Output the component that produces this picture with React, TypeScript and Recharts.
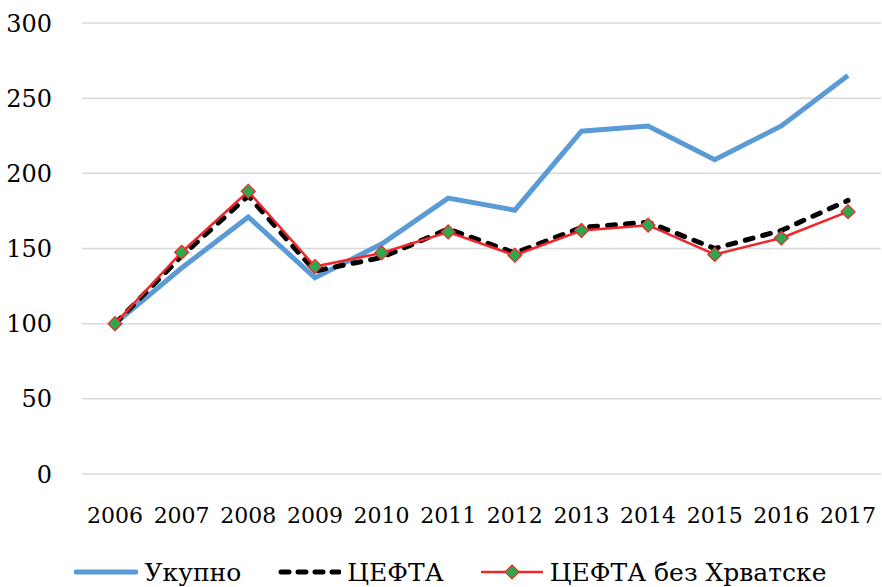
import { LineChart, Line, XAxis, YAxis, CartesianGrid, Legend } from 'recharts';

// Индекси по годинама (2006 = 100)
const years = ['2006', '2007', '2008', '2009', '2010', '2011', '2012', '2013', '2014', '2015', '2016', '2017'];
const ukupno = [100, 137, 171, 130.5, 153, 183.5, 175.5, 228, 231.5, 209, 231.5, 265];
const cefta = [100, 145, 185, 135, 144, 163, 147, 164, 167.5, 150, 162, 182];
const ceftaBezHrvatske = [100, 147.5, 188, 138, 147, 161, 145.5, 162, 165.5, 146, 157, 174.5];
const yTicks = [0, 50, 100, 150, 200, 250, 300];

const data = years.map((year, i) => ({
  year,
  ukupno: ukupno[i],
  cefta: cefta[i],
  ceftaBez: ceftaBezHrvatske[i],
}));

const FONT = "'DejaVu Serif', serif";
const BLUE = '#5B9BD5';
const RED = '#F0262B';
const GREEN = '#2EA84E';

const Diamond = (props: any) => {
  const { cx, cy } = props;
  if (cx == null || cy == null) return null;
  const r = 7;
  return (
    <polygon
      points={`${cx},${cy - r} ${cx + r},${cy} ${cx},${cy + r} ${cx - r},${cy}`}
      fill={GREEN}
      stroke={RED}
      strokeWidth={1.2}
    />
  );
};

const LegendContent = () => (
  <div
    style={{
      display: 'flex',
      justifyContent: 'center',
      alignItems: 'center',
      gap: 36,
      height: 40,
      position: 'relative',
      top: 5,
      left: 10,
      fontFamily: FONT,
      fontSize: 25,
      color: '#000',
    }}
  >
    <div style={{ display: 'flex', alignItems: 'center', gap: 6 }}>
      <svg width={64} height={14}>
        <line x1={2} y1={7} x2={62} y2={7} stroke={BLUE} strokeWidth={5} strokeLinecap="round" />
      </svg>
      <span>Укупно</span>
    </div>
    <div style={{ display: 'flex', alignItems: 'center', gap: 6 }}>
      <svg width={64} height={14}>
        <line x1={4} y1={7} x2={62} y2={7} stroke="#000" strokeWidth={5} strokeDasharray="8 9" strokeLinecap="round" />
      </svg>
      <span>ЦЕФТА</span>
    </div>
    <div style={{ display: 'flex', alignItems: 'center', gap: 6 }}>
      <svg width={64} height={16}>
        <line x1={1} y1={8} x2={63} y2={8} stroke={RED} strokeWidth={2.5} />
        <Diamond cx={32} cy={8} />
      </svg>
      <span>ЦЕФТА без Хрватске</span>
    </div>
  </div>
);

export default function App() {
  return (
    <div style={{ position: 'absolute', left: 0, top: 0, background: '#fff' }}>
      <LineChart width={882} height={587} data={data} margin={{ top: 23, right: 1, left: 0, bottom: 0 }}>
        <CartesianGrid vertical={false} stroke="#D9D9D9" strokeWidth={1.5} />
        <XAxis
          dataKey="year"
          axisLine={false}
          tickLine={false}
          tickSize={0}
          tickMargin={33}
          height={73}
          padding={{ left: 33, right: 33 }}
          interval={0}
          tick={{ fill: '#000', fontSize: 22, fontFamily: FONT }}
        />
        <YAxis
          domain={[0, 300]}
          ticks={yTicks}
          axisLine={false}
          tickLine={false}
          tickSize={0}
          tickMargin={30}
          width={82}
          tick={{ fill: '#000', fontSize: 24, fontFamily: FONT }}
        />
        <Legend verticalAlign="bottom" content={LegendContent} />
        <Line
          dataKey="ukupno"
          name="Укупно"
          stroke={BLUE}
          strokeWidth={5}
          dot={false}
          isAnimationActive={false}
        />
        <Line
          dataKey="cefta"
          name="ЦЕФТА"
          stroke="#000"
          strokeWidth={5}
          strokeDasharray="8 10"
          strokeLinecap="round"
          dot={false}
          isAnimationActive={false}
        />
        <Line
          dataKey="ceftaBez"
          name="ЦЕФТА без Хрватске"
          stroke={RED}
          strokeWidth={2.5}
          dot={<Diamond />}
          isAnimationActive={false}
        />
      </LineChart>
    </div>
  );
}
